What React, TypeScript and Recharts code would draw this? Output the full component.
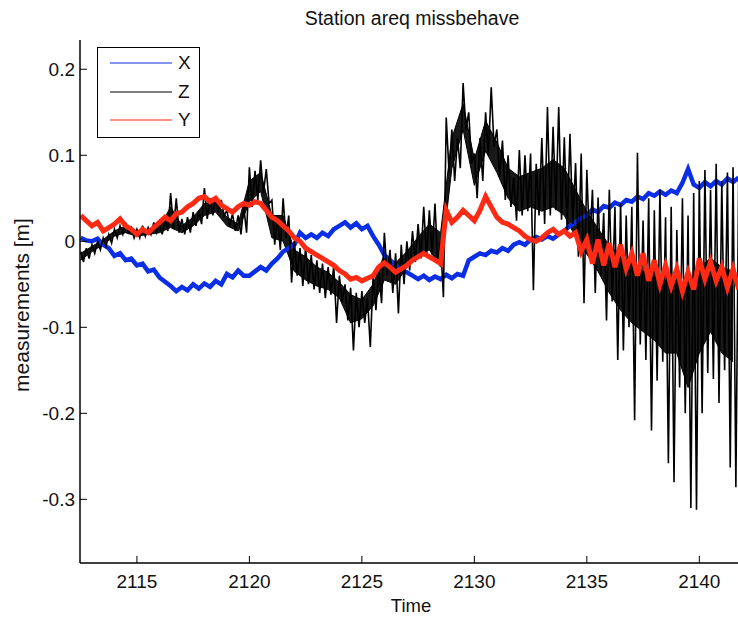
import { ComposedChart, Line, Area, XAxis, YAxis, Legend } from 'recharts'

// sampling grid of the records (days)
const T_START = 2112.5
const T_STEP = 0.25

const xTicks = [2115, 2120, 2125, 2130, 2135, 2140]
const yTicks = [-0.3, -0.2, -0.1, 0, 0.1, 0.2]
const legendOrder = ['X', 'Z', 'Y']

// X component (blue)
const seriesX = [
  0.004, 0.001,
  0.0, 0.003, -0.004, -0.008,
  -0.017, -0.014, -0.022, -0.02,
  -0.028, -0.026, -0.035, -0.033,
  -0.042, -0.047, -0.052, -0.058,
  -0.053, -0.057, -0.05, -0.055,
  -0.049, -0.053, -0.046, -0.05,
  -0.038, -0.042, -0.034, -0.04,
  -0.04, -0.035, -0.03, -0.034,
  -0.026, -0.02, -0.012, -0.008,
  -0.004, 0.01, 0.004, 0.008,
  0.004, 0.01, 0.006, 0.014,
  0.018, 0.022, 0.016, 0.021,
  0.014, 0.018, 0.006, -0.004,
  -0.016, -0.022, -0.028, -0.033,
  -0.036, -0.04, -0.044, -0.04,
  -0.045, -0.041, -0.044, -0.039,
  -0.043, -0.038, -0.04, -0.022,
  -0.018, -0.014, -0.016, -0.011,
  -0.013, -0.008, -0.011, -0.004,
  -0.001, -0.004, 0.002, 0.005,
  0.002, 0.006, 0.003, 0.008,
  0.012, 0.018, 0.022, 0.027,
  0.03, 0.037, 0.034, 0.041,
  0.039, 0.045, 0.042, 0.048,
  0.046, 0.052, 0.049, 0.056,
  0.053, 0.058, 0.054, 0.059,
  0.056, 0.068, 0.084, 0.066,
  0.062, 0.069, 0.064, 0.07,
  0.066, 0.073, 0.069, 0.074,
]

// Y component (red)
const seriesY = [
  0.03, 0.024,
  0.018, 0.022, 0.012, 0.016,
  0.02, 0.026, 0.018, 0.014,
  0.008, 0.014, 0.01, 0.016,
  0.022, 0.028, 0.024, 0.032,
  0.034, 0.04, 0.044, 0.05,
  0.052, 0.046, 0.05, 0.042,
  0.038, 0.034, 0.04, 0.044,
  0.042, 0.046, 0.044, 0.036,
  0.028, 0.024, 0.018, 0.012,
  0.004, 0.0, -0.008, -0.012,
  -0.016, -0.02, -0.024, -0.028,
  -0.034, -0.038, -0.044, -0.042,
  -0.046, -0.043, -0.04, -0.03,
  -0.025, -0.03, -0.036, -0.032,
  -0.028, -0.022, -0.018, -0.014,
  -0.018, -0.022, -0.026, 0.036,
  0.022, 0.028, 0.036, 0.03,
  0.024, 0.036, 0.052, 0.04,
  0.028, 0.022, 0.02, 0.016,
  0.012, 0.006, 0.002, 0.0,
  0.004, 0.01, 0.014, 0.008,
  0.012, 0.006, 0.01, -0.012,
  0.002, -0.026, 0.002, -0.028,
  -0.002, -0.03, -0.004, -0.032,
  -0.014, -0.04, -0.014, -0.046,
  -0.022, -0.05, -0.028, -0.052,
  -0.032, -0.058, -0.036, -0.056,
  -0.02, -0.044, -0.024, -0.046,
  -0.03, -0.054, -0.032, -0.056,
]

// Z component (black): upper and lower excursion per sample
const seriesZHigh = [
  -0.012, -0.008,
  -0.004, 0.0, 0.004, 0.008,
  0.014, 0.018, 0.022, 0.016,
  0.014, 0.018, 0.016, 0.022,
  0.02, 0.026, 0.056, 0.05,
  0.026, 0.028, 0.034, 0.036,
  0.062, 0.05, 0.052, 0.048,
  0.036, 0.032, 0.03, 0.04,
  0.086, 0.082, 0.094, 0.084,
  0.048, 0.03, 0.05, 0.03,
  0.0, -0.008, -0.006, -0.016,
  -0.022, -0.026, -0.03, -0.028,
  -0.04, -0.05, -0.054, -0.06,
  -0.058, -0.066, -0.04, -0.03,
  0.01, -0.01, -0.014, -0.004,
  0.0, 0.012, 0.02, 0.04,
  0.036, 0.044, 0.0, 0.144,
  0.13, 0.12, 0.184, 0.15,
  0.102, 0.12, 0.15, 0.179,
  0.13, 0.117, 0.1, 0.074,
  0.106, 0.1, 0.102, 0.09,
  0.12, 0.156, 0.133, 0.156,
  0.121, 0.125, 0.091, 0.102,
  0.083, 0.06, 0.051, 0.033,
  0.06, 0.04, 0.044, 0.03,
  0.04, 0.103, 0.024, 0.05,
  0.036, 0.06, 0.028, 0.04,
  0.013, 0.05, 0.03, 0.056,
  0.07, 0.083, 0.06, 0.09,
  0.07, 0.08, 0.086, 0.07,
]

const seriesZLow = [
  -0.024, -0.02,
  -0.014, -0.01, -0.006, -0.002,
  0.004, 0.008, 0.01, 0.004,
  0.004, 0.006, 0.008, 0.01,
  0.008, 0.012, 0.014, 0.01,
  0.008, 0.01, 0.018, 0.02,
  0.026, 0.03, 0.034, 0.03,
  0.018, 0.012, 0.008, 0.01,
  0.04, 0.048, 0.056, 0.044,
  -0.004, -0.01, 0.004, -0.048,
  -0.04, -0.052, -0.05, -0.056,
  -0.06, -0.066, -0.062, -0.095,
  -0.07, -0.092, -0.127, -0.1,
  -0.095, -0.123, -0.08, -0.072,
  -0.04, -0.06, -0.084, -0.05,
  -0.034, -0.024, -0.02, -0.018,
  -0.016, -0.026, -0.065, 0.08,
  0.07, 0.085, 0.13, 0.09,
  0.05, 0.07, 0.1, 0.11,
  0.075, 0.048, 0.04, 0.024,
  0.03, 0.035, -0.057, 0.03,
  0.02, 0.03, 0.036, 0.025,
  0.013, 0.02, -0.018, -0.072,
  -0.007, -0.06, -0.04, -0.092,
  -0.07, -0.138, -0.127, -0.1,
  -0.208, -0.12, -0.138, -0.22,
  -0.162, -0.14, -0.258, -0.28,
  -0.17, -0.2, -0.31, -0.312,
  -0.2, -0.153, -0.16, -0.188,
  -0.15, -0.263, -0.286, -0.18,
]

// Z dense core (where most of the black ink sits), every half day
const seriesZCoreHigh = [
  -0.014, -0.006, 0.002, 0.012, 0.018, 0.012, 0.014, 0.016,
  0.04, 0.018, 0.028, 0.044, 0.046, 0.028, 0.02, 0.07,
  0.08, 0.03, 0.03, -0.01, -0.018, -0.03, -0.036, -0.048,
  -0.062, -0.068, -0.05, -0.015, -0.025, -0.012, 0.005, 0.02,
  0.01, 0.12, 0.16, 0.095, 0.14, 0.115, 0.085, 0.075,
  0.08, 0.085, 0.095, 0.085, 0.06, 0.035, 0.015, -0.005,
  -0.015, -0.025, -0.035, -0.035, -0.045, -0.045, -0.05, -0.03,
  -0.02, -0.03, -0.035,
]

const seriesZCoreLow = [
  -0.022, -0.012, -0.004, 0.006, 0.01, 0.006, 0.008, 0.01,
  0.016, 0.01, 0.018, 0.03, 0.034, 0.018, 0.012, 0.046,
  0.058, 0.004, 0.0, -0.035, -0.045, -0.052, -0.056, -0.066,
  -0.095, -0.09, -0.075, -0.045, -0.05, -0.03, -0.015, -0.01,
  -0.03, 0.085, 0.13, 0.065, 0.105, 0.08, 0.05, 0.035,
  0.04, 0.035, 0.04, 0.03, 0.005, -0.015, -0.035, -0.06,
  -0.08, -0.095, -0.105, -0.115, -0.13, -0.13, -0.17, -0.13,
  -0.105, -0.13, -0.14,
]

type Row = { t: number; x?: number; y?: number; z: number; zc?: [number, number] }
const data: Row[] = []
seriesX.forEach((xv, i) => {
  const t = T_START + i * T_STEP
  const row: Row = { t, x: xv, y: seriesY[i], z: seriesZHigh[i] }
  if (i % 2 === 0) {
    const k = i / 2
    row.zc = [seriesZCoreLow[k], seriesZCoreHigh[k]]
  }
  data.push(row)
  data.push({ t: t + T_STEP / 2, z: seriesZLow[i] })
})

const FONT = '"Liberation Sans", Arial, Helvetica, sans-serif'
const TICK_LEN = 7

const fmtY = (v: number) => String(Math.round(v * 10) / 10)

const LeftTick = (props: any) => {
  const { x, y, payload } = props
  const axisX = x + 5
  return (
    <g>
      <line x1={axisX} x2={axisX + TICK_LEN} y1={y} y2={y} stroke="#000" />
      <text x={x} y={y} textAnchor="end" dominantBaseline="central" fontSize={19} fill="#111" fontFamily={FONT}>
        {fmtY(payload.value)}
      </text>
    </g>
  )
}

const BottomTick = (props: any) => {
  const { x, y, payload } = props
  const axisY = y
  return (
    <g>
      <line x1={x} x2={x} y1={axisY} y2={axisY - TICK_LEN} stroke="#000" />
      <text x={x} y={axisY + 25} textAnchor="middle" fontSize={19} fill="#111" fontFamily={FONT}>
        {payload.value}
      </text>
    </g>
  )
}

const TopTick = (props: any) => {
  const { x, y } = props
  return <line x1={x} x2={x} y1={y} y2={y + TICK_LEN} stroke="#000" />
}

const LegendBox = (props: any) => {
  const items = (props.payload || [])
    .filter((it: any) => legendOrder.includes(it.value))
    .sort((a: any, b: any) => legendOrder.indexOf(a.value) - legendOrder.indexOf(b.value))
  return (
    <div
      style={{
        width: 103,
        height: 91,
        boxSizing: 'border-box',
        border: '1.5px solid #000',
        background: '#fff',
        position: 'relative',
        fontFamily: FONT,
      }}
    >
      {items.map((it: any, i: number) => (
        <div key={it.value} style={{ position: 'absolute', left: 12, top: 4 + i * 28.5, height: 22, display: 'flex', alignItems: 'center' }}>
          <svg width={62} height={4}>
            <line x1={0} x2={62} y1={2} y2={2} stroke={it.color} strokeWidth={1.2} />
          </svg>
          <span style={{ marginLeft: 6, fontSize: 19, color: '#111', lineHeight: '22px' }}>{it.value}</span>
        </div>
      ))}
    </div>
  )
}

export default function App() {
  return (
    <div style={{ position: 'absolute', left: 0, top: 0, width: 738, height: 617, background: '#fff', overflow: 'hidden' }}>
      <ComposedChart
        width={738}
        height={617}
        data={data}
        margin={{ top: 40, right: 0, bottom: 0, left: 0 }}
      >
        <XAxis
          dataKey="t"
          type="number"
          domain={[2112.47, 2141.72]}
          ticks={xTicks}
          allowDataOverflow
          height={54}
          tickSize={0}
          tickMargin={0}
          tickLine={false}
          axisLine={{ stroke: '#000', strokeWidth: 1.5 }}
          tick={<BottomTick />}
        />
        <XAxis
          xAxisId="top"
          orientation="top"
          dataKey="t"
          type="number"
          domain={[2112.47, 2141.72]}
          ticks={xTicks}
          allowDataOverflow
          height={0}
          tickSize={0}
          tickMargin={0}
          tickLine={false}
          axisLine={{ stroke: '#000', strokeWidth: 1.5 }}
          tick={<TopTick />}
        />
        <YAxis
          type="number"
          domain={[-0.374, 0.234]}
          ticks={yTicks}
          allowDataOverflow
          width={80}
          tickSize={0}
          tickMargin={5}
          tickLine={false}
          axisLine={{ stroke: '#000', strokeWidth: 1.5 }}
          tick={<LeftTick />}
        />
        <Legend
          layout="vertical"
          align="center"
          verticalAlign="middle"
          wrapperStyle={{ left: 97, top: 47, width: 103, height: 91 }}
          content={<LegendBox />}
        />
        <Line
          name="X"
          dataKey="x"
          stroke="#0a2ee6"
          strokeWidth={4.5}
          strokeLinejoin="miter"
          dot={false}
          connectNulls
          isAnimationActive={false}
        />
        <Area
          name="Zcore"
          dataKey="zc"
          type="linear"
          stroke="#000"
          strokeWidth={1}
          fill="#000"
          fillOpacity={0.9}
          connectNulls
          legendType="none"
          isAnimationActive={false}
        />
        <Line
          name="Z"
          dataKey="z"
          stroke="#000"
          strokeWidth={1.6}
          dot={false}
          isAnimationActive={false}
        />
        <Line
          name="Y"
          dataKey="y"
          stroke="#ff2a14"
          strokeWidth={5}
          strokeLinejoin="miter"
          dot={false}
          connectNulls
          isAnimationActive={false}
        />
      </ComposedChart>
      <svg width={738} height={617} style={{ position: 'absolute', left: 0, top: 0, pointerEvents: 'none' }}>
        <text x={412} y={25} textAnchor="middle" fontSize={19.5} fill="#111" fontFamily={FONT}>
          Station areq missbehave
        </text>
        <text x={411} y={612} textAnchor="middle" fontSize={18.5} fill="#111" fontFamily={FONT}>
          Time
        </text>
        <text
          x={29}
          y={305}
          transform="rotate(-90 29 305)"
          textAnchor="middle"
          fontSize={21}
          fill="#111"
          fontFamily={FONT}
        >
          measurements [m]
        </text>
      </svg>
    </div>
  )
}
